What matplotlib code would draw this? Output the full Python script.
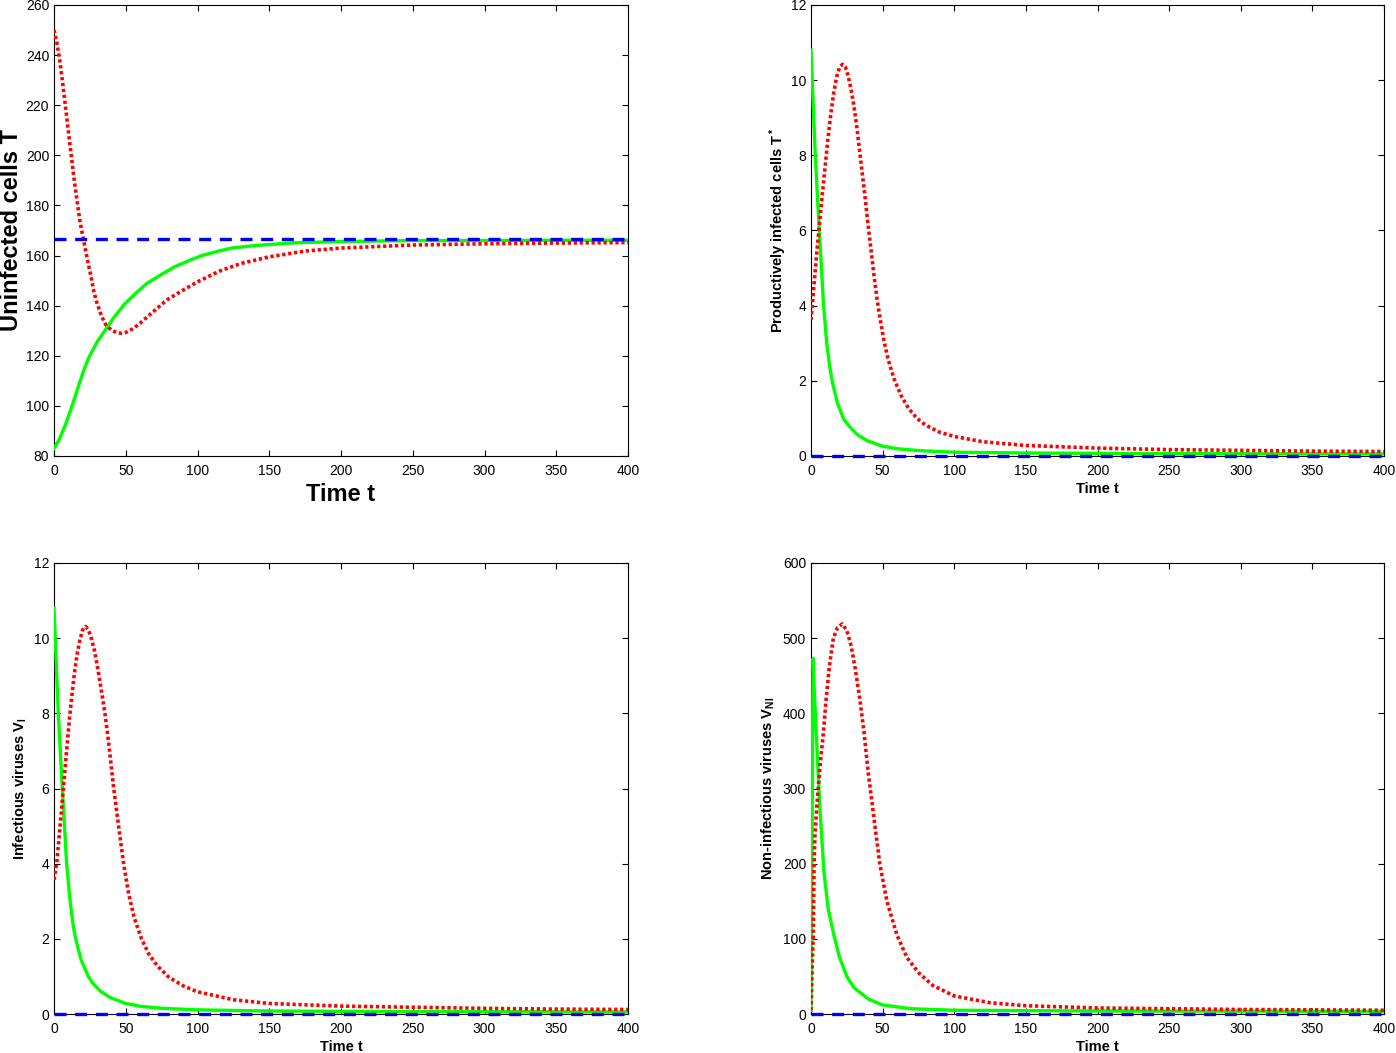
import matplotlib
matplotlib.use('Agg')
import matplotlib.pyplot as plt

plt.rcParams['font.family'] = ['Liberation Sans', 'DejaVu Sans']
plt.rcParams['mathtext.fontset'] = 'custom'
plt.rcParams['mathtext.rm'] = 'Liberation Sans'
plt.rcParams['mathtext.bf'] = 'Liberation Sans:bold'
plt.rcParams['mathtext.it'] = 'Liberation Sans:italic'

# time ends for the constant (blue) equilibrium lines
t_ends = [0, 400]

# uninfected cells T
t_T_red = [0, 2, 4, 6, 8, 10, 12, 14, 16, 18, 20, 22, 24, 26, 28, 30, 33, 36, 40, 44, 47, 50,
           55, 60, 65, 70, 75, 80, 90, 100, 115, 130, 150, 175, 200, 250, 300, 350, 400]
T_red = [250, 245, 238, 229, 219.5, 209.5, 200, 190.5, 182, 174, 168, 162, 156.5, 151, 145, 141,
         136, 132.5, 130.2, 129.2, 129, 129.3, 130.8, 133, 135.5, 138, 140.5, 142.8, 146.2, 149.5,
         153.7, 156.8, 159.5, 161.8, 163, 164.2, 164.7, 165, 165.2]
t_T_green = [0, 4, 8, 12, 16, 20, 24, 30, 36, 42, 49, 57, 65, 75, 84, 95, 103, 115, 124, 135, 145,
             168, 200, 250, 300, 350, 400]
T_green = [83, 87, 92.5, 99, 106, 113, 119, 125.5, 130.5, 135.5, 140.5, 145, 149, 152.5, 155.5,
           158.2, 160, 161.8, 163, 163.7, 164.2, 165.1, 165.6, 166, 166, 166.1, 166.1]
T_blue = [166.6, 166.6]

# productively infected cells T*
t_Ts_red = [0, 1, 2, 3, 4, 5, 6, 8, 10, 12, 14, 16, 18, 20, 22, 24, 26, 28, 30, 32, 34, 36, 38,
            40, 42, 44, 46, 48, 51, 54, 58, 63, 68, 74, 80, 90, 100, 120, 150, 200, 250, 300, 350, 400]
Ts_red = [3.62, 4.05, 4.5, 4.95, 5.4, 5.8, 6.2, 7.0, 7.75, 8.5, 9.15, 9.7, 10.1, 10.35, 10.42, 10.35,
          10.1, 9.75, 9.3, 8.75, 8.1, 7.45, 6.8, 6.1, 5.45, 4.8, 4.2, 3.7, 3.05, 2.55, 2.05, 1.6,
          1.27, 1.0, 0.82, 0.63, 0.52, 0.38, 0.28, 0.21, 0.17, 0.15, 0.13, 0.12]
t_Ts_green = [0, 1.5, 3, 4.5, 5.8, 7.3, 8.8, 11, 13, 15, 18.5, 23, 27, 32, 39, 50, 61, 77, 100,
              150, 200, 300, 400]
Ts_green = [10.8, 9.4, 8.0, 6.9, 6.0, 5.0, 4.0, 3.0, 2.4, 1.95, 1.4, 0.97, 0.78, 0.58, 0.41, 0.26,
            0.19, 0.14, 0.1, 0.08, 0.07, 0.06, 0.055]
Ts_blue = [0, 0]

# infectious viruses V_I
t_VI_red = [0, 1, 2, 4, 6.5, 9, 11, 14, 16, 18, 20, 22, 24, 26, 28, 30, 32, 35.5, 38, 41.3, 45,
            48.5, 52, 56, 61, 66, 72, 80, 90, 100, 125, 150, 200, 250, 300, 350, 400]
VI_red = [3.57, 3.8, 4.05, 4.9, 6.0, 7.1, 7.95, 9.0, 9.55, 9.95, 10.22, 10.31, 10.22, 10.0, 9.7,
          9.3, 8.85, 8.0, 7.25, 6.1, 5.0, 4.0, 3.2, 2.55, 2.0, 1.6, 1.28, 0.98, 0.75, 0.59, 0.38,
          0.28, 0.21, 0.18, 0.15, 0.13, 0.12]
t_VI_green = [0, 1.5, 3, 4.5, 5.8, 7.3, 8.8, 11, 13, 15.1, 18.8, 23.9, 27, 32, 39, 50, 61, 76, 100,
              150, 200, 300, 400]
VI_green = [10.8, 9.4, 8.0, 6.9, 6.0, 5.0, 4.0, 3.1, 2.45, 2.0, 1.45, 1.0, 0.82, 0.62, 0.44, 0.28,
            0.2, 0.15, 0.11, 0.08, 0.07, 0.06, 0.055]
VI_blue = [0, 0]

# non-infectious viruses V_NI
t_VNI_red = [0, 0.8, 1.6, 2.1, 2.8, 4.4, 6.3, 8.6, 10.5, 12.8, 15.6, 18.5, 21.8, 25, 28, 31, 34,
             37, 40, 44, 48, 53, 60, 67, 75, 85, 100, 125, 150, 200, 300, 400]
VNI_red = [5, 60, 107, 196, 240, 285, 330, 373, 418, 462, 500, 514, 519, 510, 490, 458, 420, 375,
           320, 260, 200, 150, 105, 75, 55, 38, 24, 15, 11, 8, 6, 5]
t_VNI_green = [0, 0.4, 0.8, 1.2, 1.5, 2.1, 3, 4, 6, 9, 12, 16, 20, 25, 30, 40, 50, 70, 100, 200, 400]
VNI_green = [5, 120, 250, 400, 473, 440, 400, 360, 280, 190, 140, 105, 75, 50, 35, 20, 12, 7, 5, 4,
             3.5]
VNI_blue = [0, 0]

xticks = list(range(0, 401, 50))

panels = [
    dict(pos=[54, 5, 628, 456], ylim=(80, 260), yticks=list(range(80, 261, 20)),
         red=(t_T_red, T_red), green=(t_T_green, T_green), blue=T_blue,
         ylabel='Uninfected cells T', lsize=17, xpad=4, ypad=2),
    dict(pos=[811, 5, 1384, 456], ylim=(0, 12), yticks=list(range(0, 13, 2)),
         red=(t_Ts_red, Ts_red), green=(t_Ts_green, Ts_green), blue=Ts_blue,
         ylabel=r'Productively infected cells $\mathbf{T^*}$', lsize=10.5, xpad=3, ypad=1.5),
    dict(pos=[54, 563, 628, 1014], ylim=(0, 12), yticks=list(range(0, 13, 2)),
         red=(t_VI_red, VI_red), green=(t_VI_green, VI_green), blue=VI_blue,
         ylabel=r'Infectious viruses $\mathbf{V_I}$', lsize=10.5, xpad=3, ypad=3.5),
    dict(pos=[811, 563, 1384, 1014], ylim=(0, 600), yticks=list(range(0, 601, 100)),
         red=(t_VNI_red, VNI_red), green=(t_VNI_green, VNI_green), blue=VNI_blue,
         ylabel=r'Non-infectious viruses $\mathbf{V_{NI}}$', lsize=10.5, xpad=3, ypad=4.5),
]

W, H = 1396, 1053
fig = plt.figure(figsize=(W / 100, H / 100), dpi=100)

for p in panels:
    x0, y0, x1, y1 = p['pos']
    ax = fig.add_axes([x0 / W, 1 - y1 / H, (x1 - x0) / W, (y1 - y0) / H])
    lw = 2.4
    ax.plot(t_ends, p['blue'], color='#0000ff', lw=lw, dashes=(3.6, 2.6),
            dash_capstyle='butt', clip_on=False, zorder=5)
    ax.plot(*p['green'], color='#00ff00', lw=lw, zorder=3)
    ax.plot(*p['red'], color='#ff0000', lw=2.6, dashes=(0.9, 0.75),
            dash_capstyle='butt', zorder=4)
    ax.set_xlim(0, 400)
    ax.set_ylim(*p['ylim'])
    ax.set_xticks(xticks)
    ax.set_yticks(p['yticks'])
    ax.tick_params(direction='in', length=4.5, width=0.8, top=True, right=True,
                   labelsize=10, colors='black')
    ax.tick_params(axis='x', pad=5.5)
    ax.tick_params(axis='y', pad=3.5)
    for s in ax.spines.values():
        s.set_linewidth(0.8)
    ax.set_xlabel('Time t', fontsize=p['lsize'], fontweight='bold', labelpad=p['xpad'])
    ax.set_ylabel(p['ylabel'], fontsize=p['lsize'], fontweight='bold', labelpad=p['ypad'])

fig.savefig('out.png', dpi=100)
